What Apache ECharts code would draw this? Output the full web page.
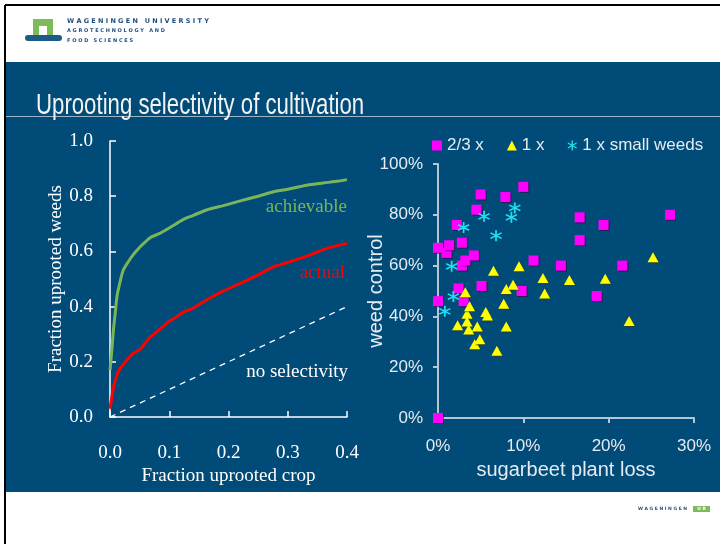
<!DOCTYPE html>
<html><head><meta charset="utf-8">
<script src="https://cdn.jsdelivr.net/npm/echarts@6/dist/echarts.min.js"></script>
<style>html,body{margin:0;padding:0;background:#fff}#c{width:720px;height:544px}</style>
</head><body><div id="c"></div>
<script>
// ---- Left chart: uprooting curves ----
const achievableCrop  = [0,0.003,0.006,0.009,0.012,0.016,0.022,0.03,0.04,0.051,0.06,0.068,0.084,0.1,0.124,0.14,0.163,0.19,0.22,0.25,0.276,0.30,0.332,0.36,0.38,0.4];
const achievableWeeds = [0.17,0.24,0.32,0.38,0.44,0.48,0.53,0.56,0.59,0.617,0.635,0.65,0.665,0.685,0.716,0.73,0.75,0.765,0.783,0.80,0.816,0.825,0.84,0.848,0.853,0.86];
const actualCrop  = [0,0.003,0.006,0.01,0.014,0.022,0.03,0.039,0.051,0.06,0.068,0.08,0.096,0.11,0.124,0.14,0.163,0.19,0.22,0.25,0.276,0.30,0.332,0.366,0.4];
const actualWeeds = [0.03,0.07,0.11,0.14,0.165,0.19,0.21,0.23,0.246,0.27,0.29,0.31,0.34,0.36,0.38,0.394,0.424,0.455,0.484,0.515,0.544,0.56,0.583,0.611,0.629];
const noSelCrop  = [0,0.4];
const noSelWeeds = [0,0.4];
const leftXTicks = [0,0.1,0.2,0.3,0.4];
const leftYTicks = [0,0.2,0.4,0.6,0.8,1.0];

// ---- Right chart: weed control vs plant loss (%) ----
const twoThirdsLoss    = [0,1.0,1.3,2.2,2.8,2.8,3.2,4.2,4.5,5.0,5.1,2.4,7.9,10.0,9.8,11.2,14.4,16.6,16.6,19.4,21.6,27.2,18.6,0,3.0,0];
const twoThirdsControl = [67,65,68,76,69,60,62,64,82,88,52,51,87,91,50,62,60,79,70,76,60,80,48,46,46,0];
const oneXLoss    = [2.3,3.2,3.4,3.4,3.6,3.7,4.3,4.6,4.9,5.6,5.8,6.5,6.9,7.7,8.0,8.0,8.8,9.5,12.3,12.5,15.4,19.6,22.4,25.2];
const oneXControl = [36.5,49.5,41,38,34.8,44,29,36,31,41.7,40.4,58,26.5,45,36,50.8,52.5,59.7,55.1,49,54.3,54.8,38.2,63.3];
const smallLoss    = [0.8,1.8,1.6,3.0,5.4,6.8,8.6,9.0];
const smallControl = [42,47.8,59.7,75,79.4,71.8,79,82.7];
const seriesNames = ['2/3 x','1 x','1 x small weeds'];

const zip = (a,b) => a.map((v,i)=>[v,b[i]]);
const BG = '#014b78';
const LIGHT = '#e4ebf1';
const serif = '"Liberation Serif", "Times New Roman", serif';
const sans = '"Liberation Sans", Arial, sans-serif';
const asterisk = 'path://M4.3,0 L5.7,0 L5.7,10 L4.3,10 Z M1.0,1.9 L9.7,6.9 L9.0,8.1 L0.3,3.1 Z M0.3,6.9 L9.0,1.9 L9.7,3.1 L1.0,8.1 Z';

const chart = echarts.init(document.getElementById('c'), null, {renderer:'canvas'});
const leftAxisStyle = {
  axisLine:{show:true, lineStyle:{color:'#ffffff', width:1.5}},
  axisTick:{show:true, inside:true, length:6, lineStyle:{color:'#ffffff', width:1.5}},
  splitLine:{show:false},
  nameLocation:'middle', nameMoveOverlap:false,
  nameTextStyle:{color:'#ffffff', fontFamily:serif, fontSize:19},
};
const rightAxisStyle = {
  axisLine:{show:true, lineStyle:{color:'#b4c6d4', width:2}},
  axisTick:{show:true, inside:false, length:5, lineStyle:{color:'#b4c6d4', width:2}},
  splitLine:{show:false},
  nameLocation:'middle', nameMoveOverlap:false,
  nameTextStyle:{color:LIGHT, fontFamily:sans, fontSize:20},
};

chart.setOption({
  backgroundColor:'#ffffff',
  animation:false,
  grid:[
    {left:110, top:141, width:237, height:276},
    {left:438, top:164, width:256, height:254}
  ],
  xAxis:[
    Object.assign({}, leftAxisStyle, {
      gridIndex:0, type:'value', min:leftXTicks[0], max:leftXTicks[leftXTicks.length-1], interval:0.1,
      name:'Fraction uprooted crop', nameGap:50,
      axisLabel:{color:'#ffffff', fontFamily:serif, fontSize:19, margin:27, formatter:v=>v.toFixed(1)}
    }),
    Object.assign({}, rightAxisStyle, {
      gridIndex:1, type:'value', min:0, max:30, interval:10,
      name:'sugarbeet plant loss', nameGap:42,
      axisLabel:{color:LIGHT, fontFamily:sans, fontSize:17, margin:20, formatter:'{value}%'}
    })
  ],
  yAxis:[
    Object.assign({}, leftAxisStyle, {
      gridIndex:0, type:'value', min:leftYTicks[0], max:leftYTicks[leftYTicks.length-1], interval:0.2,
      name:'Fraction uprooted weeds', nameGap:44,
      axisLabel:{color:'#ffffff', fontFamily:serif, fontSize:19, margin:17, formatter:v=>v.toFixed(1)}
    }),
    Object.assign({}, rightAxisStyle, {
      gridIndex:1, type:'value', min:0, max:100, interval:20,
      name:'weed control', nameGap:52,
      axisLabel:{color:LIGHT, fontFamily:sans, fontSize:17, margin:15, formatter:'{value}%'}
    })
  ],
  legend:{
    left:432, top:137, padding:0, itemWidth:10, itemHeight:10, itemGap:23,
    textStyle:{color:LIGHT, fontFamily:sans, fontSize:17},
    data:[
      {name:seriesNames[0], icon:'rect'},
      {name:seriesNames[1], icon:'triangle'},
      {name:seriesNames[2], icon:asterisk}
    ]
  },
  series:[
    {type:'line', xAxisIndex:0, yAxisIndex:0, data:zip(noSelCrop,noSelWeeds), symbol:'none',
     lineStyle:{color:'#ffffff', width:1.3, type:[6,5]}, silent:true},
    {type:'line', xAxisIndex:0, yAxisIndex:0, data:zip(achievableCrop,achievableWeeds), symbol:'none', smooth:0.3,
     lineStyle:{color:'#7bb55a', width:3}},
    {type:'line', xAxisIndex:0, yAxisIndex:0, data:zip(actualCrop,actualWeeds), symbol:'none', smooth:0.3,
     lineStyle:{color:'#ff0000', width:3}},
    {name:seriesNames[0], type:'scatter', xAxisIndex:1, yAxisIndex:1, data:zip(twoThirdsLoss,twoThirdsControl),
     symbol:'rect', symbolSize:10, clip:false,
     itemStyle:{color:'#ff00ff', opacity:1, shadowColor:'rgba(60,0,60,0.6)', shadowOffsetX:1, shadowOffsetY:1}},
    {name:seriesNames[1], type:'scatter', xAxisIndex:1, yAxisIndex:1, data:zip(oneXLoss,oneXControl),
     symbol:'triangle', symbolSize:[11,10], clip:false,
     itemStyle:{color:'#ffff00', opacity:1, shadowColor:'rgba(60,60,0,0.6)', shadowOffsetX:1, shadowOffsetY:1}},
    {name:seriesNames[2], type:'scatter', xAxisIndex:1, yAxisIndex:1, data:zip(smallLoss,smallControl),
     symbol:asterisk, symbolSize:[12,11], clip:false,
     itemStyle:{color:'#22ddee', opacity:1}}
  ],
  graphic:[
    {type:'rect', z:-100, shape:{x:6, y:62, width:714, height:430}, style:{fill:BG}},
    {type:'line', z:-90, shape:{x1:5, y1:5, x2:720, y2:5}, style:{stroke:'#000', lineWidth:2}},
    {type:'line', z:-90, shape:{x1:5, y1:5, x2:5, y2:544}, style:{stroke:'#000', lineWidth:2}},
    {type:'line', z:-90, shape:{x1:6, y1:116.5, x2:720, y2:116.5}, style:{stroke:'#9db3c6', lineWidth:1}},
    {type:'text', z:50, x:36, y:106, scaleX:0.74, scaleY:1,
      style:{text:'Uprooting selectivity of cultivation', x:0, y:0, fill:'#f2f2f2',
      font:'30px "Liberation Sans", sans-serif', align:'left', verticalAlign:'middle'}},
    // logo top-left
    {type:'rect', z:-80, shape:{x:33, y:19, width:20, height:17}, style:{fill:'#7dbb5a'}},
    {type:'rect', z:-79, shape:{x:39, y:26, width:8, height:10}, style:{fill:'#ffffff'}},
    {type:'rect', z:-78, shape:{x:25, y:35, width:37, height:6, r:3}, style:{fill:'#1c5a88'}},
    {type:'text', z:50, style:{text:'W A G E N I N G E N   U N I V E R S I T Y', x:67, y:21, fill:'#1c4f7e',
      font:'bold 6.5px "DejaVu Sans", sans-serif', verticalAlign:'middle'}},
    {type:'text', z:50, style:{text:'A G R O T E C H N O L O G Y   A N D', x:67, y:31, fill:'#1c4f7e',
      font:'bold 5px "DejaVu Sans", sans-serif', verticalAlign:'middle'}},
    {type:'text', z:50, style:{text:'F O O D   S C I E N C E S', x:67, y:41, fill:'#1c4f7e',
      font:'bold 5px "DejaVu Sans", sans-serif', verticalAlign:'middle'}},
    // logo bottom-right
    {type:'text', z:50, style:{text:'W A G E N I N G E N', x:638, y:509, fill:'#1c4f7e',
      font:'bold 4.5px "DejaVu Sans", sans-serif', verticalAlign:'middle'}},
    {type:'rect', z:40, shape:{x:693, y:506, width:17, height:6}, style:{fill:'#7dbb5a'}},
    {type:'text', z:50, style:{text:'U R', x:701.5, y:509, fill:'#ffffff',
      font:'bold 4.5px "DejaVu Sans", sans-serif', align:'center', verticalAlign:'middle'}},
    // annotations on left chart
    {type:'text', z:50, style:{text:'achievable', x:347, y:207, fill:'#7bb55a', font:'19px '+serif, align:'right', verticalAlign:'middle'}},
    {type:'text', z:50, style:{text:'actual', x:345, y:273, fill:'#ff0000', font:'19px '+serif, align:'right', verticalAlign:'middle'}},
    {type:'text', z:50, style:{text:'no selectivity', x:348, y:372, fill:'#ffffff', font:'19px '+serif, align:'right', verticalAlign:'middle'}}
  ]
});
</script></body></html>
